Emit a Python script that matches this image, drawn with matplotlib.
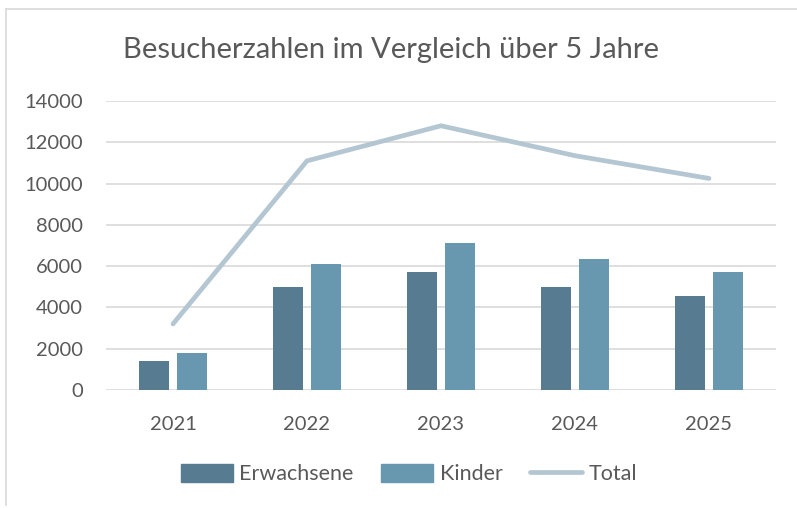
import matplotlib
matplotlib.use("Agg")
import matplotlib.pyplot as plt
import numpy as np
from matplotlib.lines import Line2D
from matplotlib.patches import Patch

years = ["2021", "2022", "2023", "2024", "2025"]
erwachsene = [1400, 5000, 5700, 5000, 4550]
kinder = [1800, 6100, 7100, 6350, 5700]
total = [3200, 11100, 12800, 11350, 10250]
yticks = [0, 2000, 4000, 6000, 8000, 10000, 12000, 14000]

plt.rcParams['font.family'] = ['Lato', 'DejaVu Sans']
TXT = '#595959'
C_E = '#577b90'
C_K = '#6897b0'
C_T = '#b4c6d2'
GRID = '#d9d9d9'

fig = plt.figure(figsize=(7.97, 5.08), dpi=100)
ax = fig.add_axes([106/797, 1-390/508, (776-106)/797, (390-101)/508])

x = np.arange(len(years))
w = 0.224
gap = 0.06
ax.bar(x - (w+gap)/2, erwachsene, w, color=C_E, zorder=3, label='Erwachsene')
ax.bar(x + (w+gap)/2, kinder, w, color=C_K, zorder=3, label='Kinder')
ax.plot(x, total, color=C_T, lw=3.4, solid_capstyle='round', solid_joinstyle='round', zorder=4, label='Total')

ax.set_xlim(-0.5, len(years)-0.5)
ax.set_ylim(0, 14000)
ax.set_yticks(yticks)
ax.set_yticklabels([str(v) for v in yticks])
ax.set_xticks(x)
ax.set_xticklabels(years)
ax.tick_params(axis='both', length=0, labelsize=14.5, colors=TXT)
ax.tick_params(axis='y', pad=16.5)
ax.tick_params(axis='x', pad=19)
for s in ax.spines.values():
    s.set_visible(False)
ax.grid(axis='y', color=GRID, lw=1.2, zorder=0)
ax.set_axisbelow(True)

fig.text(391/797, 1-50/508, 'Besucherzahlen im Vergleich über 5 Jahre',
         ha='center', va='center', fontsize=21, color=TXT)

handles = [Patch(color=C_E), Patch(color=C_K),
           Line2D([0], [0], color=C_T, lw=3.4, solid_capstyle='round')]
leg = fig.legend(handles, ['Erwachsene', 'Kinder', 'Total'], loc='center',
                 bbox_to_anchor=(409/797, 1-474/508), ncol=3, frameon=False,
                 fontsize=15.5, handlelength=2.4, handleheight=0.9,
                 columnspacing=1.3, handletextpad=0.3)
for t in leg.get_texts():
    t.set_color(TXT)

# chart border (top and left)
fig.add_artist(Line2D([6/797, 1], [1-9/508, 1-9/508], color='#d9d9d9', lw=1.2, transform=fig.transFigure))
fig.add_artist(Line2D([6/797, 6/797], [1-9/508, 1-505/508], color='#d9d9d9', lw=1.2, transform=fig.transFigure))

fig.savefig('out.png', dpi=100, facecolor='white')
